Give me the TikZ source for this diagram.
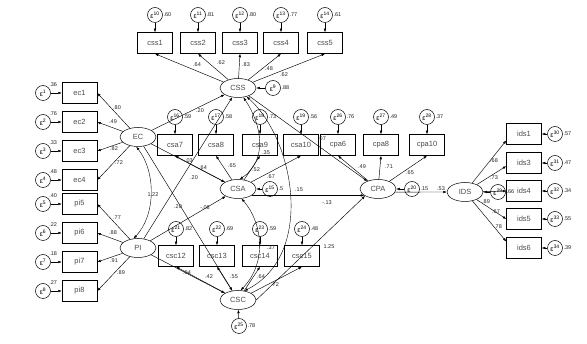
\documentclass[tikz,border=0pt]{standalone}
\usepackage{fontspec}
\setmainfont{Liberation Sans}
\usetikzlibrary{arrows.meta,shapes.geometric}
\newcommand\epsn[1]{ε\textsuperscript{#1}}
\begin{document}
\begin{tikzpicture}[x=1pt,y=-1pt,
  arr/.style={-{Latex[length=3.5pt,width=2.6pt]}, line width=0.45pt},
  darr/.style={{Latex[length=3.5pt,width=2.6pt]}-{Latex[length=3.5pt,width=2.6pt]}, line width=0.4pt},
  obs/.style={draw, line width=0.5pt, minimum width=35pt, minimum height=21pt, inner sep=0pt, font=\fontsize{7.5}{8}\selectfont, text=black!70},
  lat/.style={draw, ellipse, line width=0.5pt, minimum width=36pt, minimum height=19pt, inner sep=0pt, font=\fontsize{7.5}{8}\selectfont, text=black!70},
  err/.style={draw, circle, line width=0.5pt, minimum size=15pt, inner sep=0pt, font=\fontsize{7}{7}\selectfont},
  lab/.style={font=\fontsize{5.5}{6}\selectfont, inner sep=0.6pt, text=black!85},
]
\useasboundingbox (0,0) rectangle (587,344);
\fill[white] (0,0) rectangle (587,344);

% ---- exogenous latents and indicators
\node[lat] (EC) at (138,137) {EC};
\node[lat] (PI) at (138,248) {PI};
\foreach \n/\y/\v [count=\i] in {ec1/93/.36,ec2/122/.76,ec3/151/.33,ec4/180/.48,pi5/204/.40,pi6/233/.22,pi7/262/.18,pi8/291/.27}{
  \node[obs] (\n) at (79.5,\y) {\n};
  \node[err, label={[lab]45:\v}] (e\i) at (43,\y) {\epsn{\i}};
  \draw[arr] (e\i) -- (\n);
}
\foreach \n in {ec1,ec2,ec3,ec4} \draw[arr] (EC) -- (\n.east);
\foreach \n in {pi5,pi6,pi7,pi8} \draw[arr] (PI) -- (\n.east);
\draw[darr] (EC.-100) .. controls (156,172) and (156,215) .. (PI.115);

% ---- CSS
\node[lat] (CSS) at (238,88) {CSS};
\node[err, label={[lab]0:.88}] (e9) at (273,88) {\epsn{9}};
\draw[arr] (e9) -- (CSS);
\foreach \n/\x/\v/\k in {css1/155/.60/10,css2/198/.81/11,css3/240/.80/12,css4/281/.77/13,css5/325/.61/14}{
  \node[obs] (\n) at (\x,43) {\n};
  \node[err, label={[lab]0:\v}] (e\k) at (\x,15) {\epsn{\k}};
  \draw[arr] (e\k) -- (\n);
  \draw[arr] (CSS) -- (\n.south);
}

% ---- CSA / CPA row
\node[lat] (CSA) at (238,189) {CSA};
\node[err, label={[lab]0:.5}] (e15) at (270,189) {\epsn{15}};
\draw[arr] (e15) -- (CSA);
\node[lat] (CPA) at (378,189) {CPA};
\node[err, label={[lab]0:.15}] (e20) at (412,189) {\epsn{20}};
\draw[arr] (e20) -- (CPA);
\foreach \n/\x/\v/\k in {csa7/175/.59/16,csa8/216/.58/17,csa9/260/.73/18,csa10/301/.56/19}{
  \node[obs] (\n) at (\x,145) {\n};
  \node[err, label={[lab]0:\v}] (e\k) at (\x,117) {\epsn{\k}};
  \draw[arr] (e\k) -- (\n);
  \draw[arr] (CSA) -- (\n.south);
}
\foreach \n/\x/\v/\k in {cpa6/338/.76/26,cpa8/381/.49/27,cpa10/427/.37/28}{
  \node[obs] (\n) at (\x,145) {\n};
  \node[err, label={[lab]0:\v}] (e\k) at (\x,117) {\epsn{\k}};
  \draw[arr] (e\k) -- (\n);
  \draw[arr] (CPA) -- (\n.south);
}

% ---- CSC row
\node[lat] (CSC) at (238,300) {CSC};
\node[err, label={[lab]0:.78}] (e25) at (239,326) {\epsn{25}};
\draw[arr] (e25) -- (CSC);
\foreach \n/\x/\v/\k in {csc12/176/.82/21,csc13/217/.69/22,csc14/260/.59/23,csc15/302/.48/24}{
  \node[obs] (\n) at (\x,256) {\n};
  \node[err, label={[lab]0:\v}] (e\k) at (\x,229) {\epsn{\k}};
  \draw[arr] (e\k) -- (\n);
  \draw[arr] (CSC) -- (\n.south);
}

% ---- IDS
\node[lat] (IDS) at (465,192) {IDS};
\node[err, label={[lab]0:.66}] (e29) at (498,192) {\epsn{29}};
\draw[arr] (e29) -- (IDS);
\foreach \n/\y/\v/\k/\a in {ids1/134/.57/30/200,ids3/163/.47/31/190,ids4/191/.34/32/180,ids5/219/.55/33/180,ids6/248/.39/34/160}{
  \node[obs] (\n) at (524,\y) {\n};
  \node[err, label={[lab]0:\v}] (e\k) at (555,\y) {\epsn{\k}};
  \draw[arr] (e\k) -- (\n);
  \draw[arr] (IDS) -- (\n.\a);
}

% ---- structural paths
\draw[arr] (EC) -- (CSS);
\draw[arr] (PI) -- (CSS);
\draw[arr] (EC) -- (CSA);
\draw[arr] (PI) -- (CSA);
\draw[arr] (EC) -- (CSC);
\draw[arr] (PI) -- (CSC);
\draw[arr] (CSS) -- (CPA);
\draw[arr] (CSA.-25) -- (CPA.205);
\draw[arr] (CSC.east) -- (CPA.south west);
\draw[arr] (CPA.-10) -- (IDS.west);

% ---- covariances
\draw[darr] (CSS.-60) .. controls (262,125) and (268,160) .. (CSA.80);
\draw[darr] (CSS.-45) .. controls (295,140) and (315,255) .. (CSC.55);
\draw[darr] (CSA.-70) .. controls (262,222) and (268,262) .. (CSC.75);

% ---- coefficient labels
\node[lab] (c01) at (117,108) {.80};
\node[lab] (c02) at (113,122) {.49};
\node[lab] (c03) at (114,149) {.82};
\node[lab] (c04) at (119,163) {.72};
\node[lab] (c05) at (117,218) {.77};
\node[lab] (c06) at (113,233) {.88};
\node[lab] (c07) at (114,261) {.91};
\node[lab] (c08) at (121,273) {.89};
\node[lab] (c09) at (153,195) {1.22};
\node[lab] (c10) at (197,65) {.64};
\node[lab] (c11) at (221,63) {.62};
\node[lab] (c12) at (246,65) {.83};
\node[lab] (c13) at (269,69) {.48};
\node[lab] (c14) at (284,75) {.62};
\node[lab] (c15) at (200,111) {.20};
\node[lab] (c16) at (188,161) {-.03};
\node[lab] (c17) at (203,168) {.64};
\node[lab] (c18) at (194,178) {.20};
\node[lab] (c19) at (232,166) {.65};
\node[lab] (c20) at (256,170) {.52};
\node[lab] (c21) at (266,153) {.35};
\node[lab] (c22) at (271,177) {.67};
\node[lab] (c23) at (322,139) {.07};
\node[lab] (c24) at (178,207) {.20};
\node[lab] (c25) at (205,208) {-.08};
\node[lab] (c26) at (299,190) {.15};
\node[lab] (c27) at (327,203) {-.13};
\node[lab] (c28) at (362,167) {.49};
\node[lab] (c29) at (389,167) {.71};
\node[lab] (c30) at (410,173) {.65};
\node[lab] (c31) at (441,189) {.53};
\node[lab] (c32) at (494,161) {.68};
\node[lab] (c33) at (494,178) {.73};
\node[lab] (c34) at (486,202) {.89};
\node[lab] (c35) at (496,212) {.67};
\node[lab] (c36) at (498,227) {.78};
\node[lab] (c37) at (271,248) {.37};
\node[lab] (c38) at (329,247) {1.25};
\node[lab] (c39) at (187,273) {.04};
\node[lab] (c40) at (209,277) {.42};
\node[lab] (c41) at (234,277) {.55};
\node[lab] (c42) at (261,277) {.64};
\node[lab] (c43) at (275,285) {.72};
\end{tikzpicture}
\end{document}
